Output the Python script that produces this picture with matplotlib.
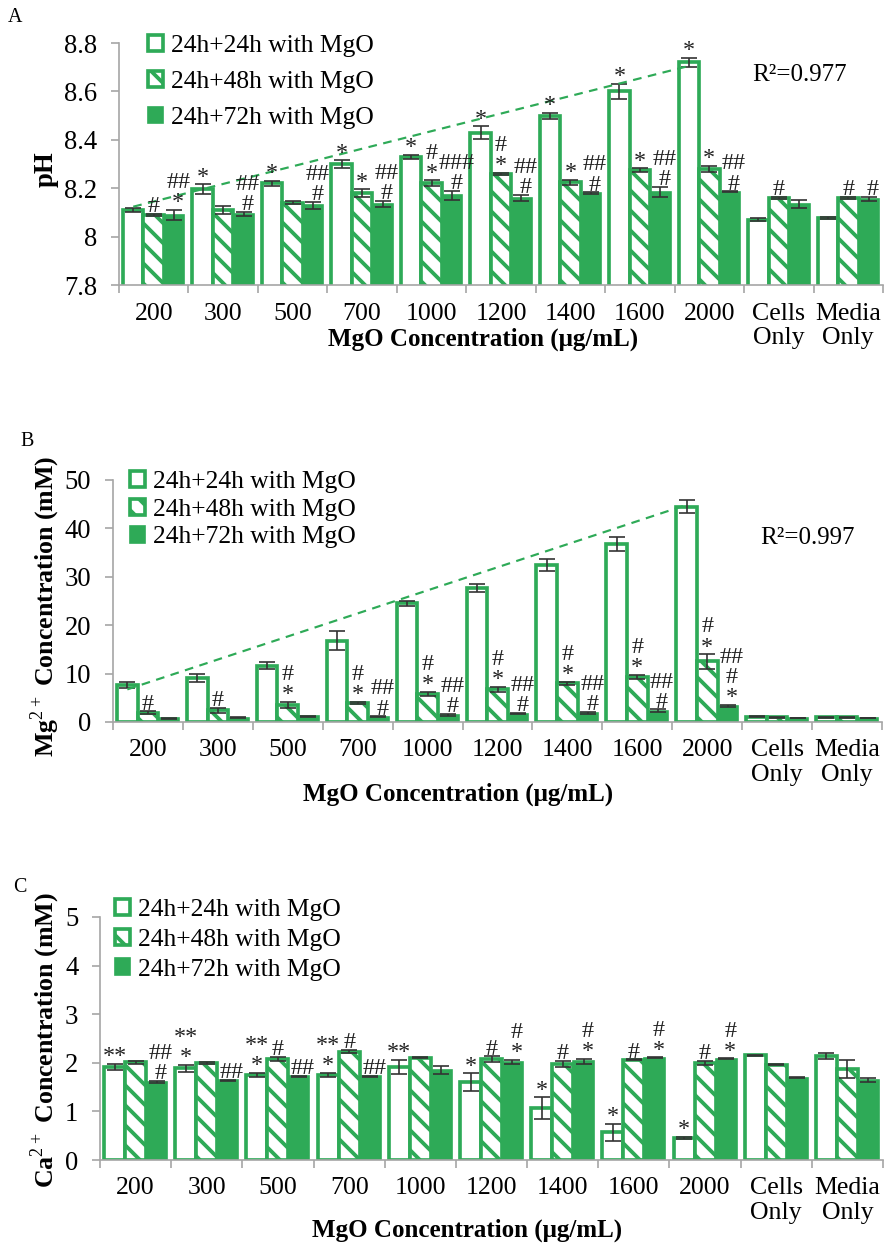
import numpy as np
import matplotlib
matplotlib.use('Agg')
import matplotlib.pyplot as plt
from matplotlib.patches import Patch
from matplotlib.ticker import FuncFormatter, FixedLocator

plt.rcParams['font.family'] = 'Liberation Serif'
plt.rcParams['mathtext.fontset'] = 'custom'
plt.rcParams['mathtext.rm'] = 'Liberation Serif'
plt.rcParams['hatch.linewidth'] = 2.3

GREEN = '#2eaa57'
plt.rcParams['hatch.color'] = GREEN

groups = ['200', '300', '500', '700', '1000', '1200', '1400', '1600', '2000', 'Cells\nOnly', 'Media\nOnly']
conc = [200, 300, 500, 700, 1000, 1200, 1400, 1600, 2000]
series_names = ['24h+24h with MgO', '24h+48h with MgO', '24h+72h with MgO']

# pH
ph_24 = [8.11, 8.196, 8.22, 8.30, 8.33, 8.43, 8.50, 8.60, 8.72, 8.07, 8.075]
ph_48 = [8.09, 8.11, 8.14, 8.18, 8.22, 8.26, 8.225, 8.275, 8.28, 8.16, 8.16]
ph_72 = [8.09, 8.095, 8.13, 8.135, 8.17, 8.16, 8.18, 8.185, 8.185, 8.135, 8.155]
ph_24_err = [0.01, 0.02, 0.01, 0.015, 0.008, 0.025, 0.012, 0.03, 0.02, 0.007, 0.004]
ph_48_err = [0.005, 0.015, 0.007, 0.015, 0.012, 0.004, 0.01, 0.007, 0.012, 0.004, 0.005]
ph_72_err = [0.02, 0.008, 0.015, 0.012, 0.02, 0.012, 0.003, 0.02, 0.002, 0.017, 0.008]
ph_24_sig = ['', '*', '*', '*', '*', '*', '*', '*', '*', '', '']
ph_48_sig = ['#', '', '', '*', '#\n*', '#\n*', '*', '*', '*', '#', '#']
ph_72_sig = ['##\n*', '##\n#', '##\n#', '##\n#', '###\n#', '##\n#', '##\n#', '##\n#', '##\n#', '', '#']

# Mg2+ (mM)
mg_24 = [7.6, 9.1, 11.6, 16.8, 24.5, 27.7, 32.4, 36.8, 44.5, 1.1, 1.0]
mg_48 = [1.9, 2.4, 3.5, 3.9, 5.8, 6.8, 8.0, 9.3, 12.5, 1.0, 1.0]
mg_72 = [0.8, 0.9, 1.2, 1.1, 1.5, 1.7, 1.9, 2.3, 3.3, 0.8, 0.8]
mg_24_err = [0.6, 0.8, 0.7, 2.0, 0.5, 0.8, 1.2, 1.5, 1.4, 0.1, 0.1]
mg_48_err = [0.3, 0.5, 0.6, 0.2, 0.4, 0.5, 0.3, 0.4, 1.5, 0.1, 0.1]
mg_72_err = [0.1, 0.1, 0.1, 0.1, 0.2, 0.15, 0.15, 0.3, 0.3, 0.05, 0.05]
mg_24_sig = [''] * 11
mg_48_sig = ['#', '#', '#\n*', '#\n*', '#\n*', '#\n*', '#\n*', '#\n*', '#\n*', '', '']
mg_72_sig = ['', '', '', '##\n#', '##\n#', '##\n#', '##\n#', '##\n#', '##\n#\n*', '', '']

# Ca2+ (mM)
ca_24 = [1.92, 1.89, 1.75, 1.75, 1.91, 1.60, 1.07, 0.57, 0.45, 2.16, 2.14]
ca_48 = [2.01, 1.99, 2.08, 2.23, 2.10, 2.07, 1.98, 2.06, 2.00, 1.96, 1.87]
ca_72 = [1.61, 1.64, 1.72, 1.72, 1.85, 2.02, 2.03, 2.10, 2.08, 1.69, 1.65]
ca_24_err = [0.06, 0.07, 0.04, 0.04, 0.15, 0.18, 0.22, 0.17, 0.02, 0.01, 0.06]
ca_48_err = [0.03, 0.02, 0.04, 0.03, 0.01, 0.06, 0.06, 0.01, 0.04, 0.01, 0.18]
ca_72_err = [0.02, 0.01, 0.01, 0.01, 0.08, 0.04, 0.05, 0.01, 0.01, 0.01, 0.04]
ca_24_sig = ['**', '**\n*', '**\n*', '**\n*', '**', '*', '*', '*', '*', '', '']
ca_48_sig = ['', '', '#', '#', '', '#', '#', '#', '#', '', '']
ca_72_sig = ['##\n#', '##', '##', '##', '', '#\n*', '#\n*', '#\n*', '#\n*', '', '']

W, H = 885, 1245
fig = plt.figure(figsize=(W / 120, H / 120), dpi=120)

bar_w = 0.295
x = np.arange(len(groups))
styles = [dict(color='white', edgecolor=GREEN, linewidth=2.2),
          dict(color='white', edgecolor=GREEN, linewidth=2.2, hatch='\\\\'),
          dict(color=GREEN, edgecolor=GREEN, linewidth=1.0)]
sig_dx = [0, 0, 2.5]


def px_box(x0, x1, ytop, ybot):
    return [x0 / W, 1 - ybot / H, (x1 - x0) / W, (ybot - ytop) / H]


def draw_panel(ax, vals, errs, sigs, ylim, yticks, trend=False):
    centers = []
    for k in range(3):
        cx = x + 0.0575 + bar_w / 2 + k * bar_w
        centers.append(cx)
        ax.bar(cx, vals[k], bar_w, zorder=2, **styles[k])
        ax.errorbar(cx, vals[k], yerr=errs[k], fmt='none', ecolor='#333333',
                    elinewidth=1.0, capsize=5, capthick=1.0, zorder=3)
        for xi, v, e, s in zip(cx, vals[k], errs[k], sigs[k]):
            if s:
                ax.annotate(s, xy=(xi, v + e), xytext=(sig_dx[k], -2), textcoords='offset points',
                            ha='center', va='bottom', fontsize=14.5, linespacing=0.95,
                            color='#222222', zorder=5)
    if trend:
        # linear fit of the first series against MgO concentration
        n = len(conc)
        coef = np.polyfit(conc, vals[0][:n], 1)
        ends = centers[0][[0, n - 1]]
        ax.plot(ends, np.polyval(coef, [conc[0], conc[-1]]), linestyle=(0, (4, 3)),
                color=GREEN, lw=1.3, zorder=4)
    ax.set_xlim(0, len(groups))
    ax.set_ylim(*ylim)
    ax.set_yticks(yticks)
    ax.yaxis.set_major_formatter(FuncFormatter(lambda v, p: '%g' % round(v, 2)))
    ax.set_xticks(x + 0.5)
    ax.set_xticklabels(groups)
    for lbl in ax.get_xticklabels():
        lbl.set_linespacing(1.12)
    ax.xaxis.set_minor_locator(FixedLocator(np.arange(len(groups) + 1)))
    ax.tick_params(axis='x', which='major', length=0, pad=10.5, labelsize=15.5)
    ax.tick_params(axis='x', which='minor', length=5, width=1, color='#a6a6a6')
    ax.tick_params(axis='y', length=5, width=1, color='#a6a6a6', pad=8, labelsize=16)
    for side in ['top', 'right']:
        ax.spines[side].set_visible(False)
    for side in ['left', 'bottom']:
        ax.spines[side].set_color('#a6a6a6')
        ax.spines[side].set_linewidth(1.0)
        ax.spines[side].set_zorder(6)


def add_legend(ax, left, top, spacing):
    handles = [Patch(facecolor=s['color'], edgecolor=s['edgecolor'],
                     linewidth=s['linewidth'], hatch=s.get('hatch')) for s in styles]
    ax.legend(handles, series_names, loc='upper left', bbox_to_anchor=(left / W, 1 - top / H),
              bbox_transform=fig.transFigure, frameon=False, fontsize=15.3,
              handlelength=0.6, handleheight=0.6, handletextpad=0.3,
              labelspacing=spacing, borderpad=0, borderaxespad=0)


xlabel = 'MgO Concentration (μg/mL)'

# A: pH
axA = fig.add_axes(px_box(119, 883, 43, 285))
draw_panel(axA, [ph_24, ph_48, ph_72], [ph_24_err, ph_48_err, ph_72_err],
           [ph_24_sig, ph_48_sig, ph_72_sig], (7.8, 8.8), np.arange(7.8, 8.81, 0.2), trend=True)
add_legend(axA, 148, 35, 0.55)
fig.text(800 / W, 1 - 75 / H, 'R²=0.977', ha='center', va='center', fontsize=15)
fig.text(15 / W, 1 - 18 / H, 'A', ha='center', va='center', fontsize=12)
fig.text(46 / W, 1 - 169 / H, 'pH', rotation=90, ha='center', va='center', fontsize=16, fontweight='bold')
fig.text(483 / W, 1 - 339 / H, xlabel, ha='center', va='center', fontsize=15, fontweight='bold')

# B: Mg2+
axB = fig.add_axes(px_box(113, 882, 480, 722))
draw_panel(axB, [mg_24, mg_48, mg_72], [mg_24_err, mg_48_err, mg_72_err],
           [mg_24_sig, mg_48_sig, mg_72_sig], (0, 50), np.arange(0, 51, 10), trend=True)
add_legend(axB, 130, 471, 0.22)
fig.text(807 / W, 1 - 538 / H, 'R²=0.997', ha='center', va='center', fontsize=15)
fig.text(27 / W, 1 - 441 / H, 'B', ha='center', va='center', fontsize=12)
fig.text(45 / W, 1 - 606 / H, r'Mg$^{2+}$ Concentration (mM)', rotation=90, ha='center',
         va='center', fontsize=15.5, fontweight='bold')
fig.text(458 / W, 1 - 794 / H, xlabel, ha='center', va='center', fontsize=15, fontweight='bold')

# C: Ca2+
axC = fig.add_axes(px_box(100, 883, 917, 1160))
draw_panel(axC, [ca_24, ca_48, ca_72], [ca_24_err, ca_48_err, ca_72_err],
           [ca_24_sig, ca_48_sig, ca_72_sig], (0, 5), np.arange(0, 5.1, 1))
add_legend(axC, 115, 899, 0.3)
fig.text(20 / W, 1 - 887 / H, 'C', ha='center', va='center', fontsize=12)
fig.text(45 / W, 1 - 1040 / H, r'Ca$^{2+}$ Concentration (mM)', rotation=90, ha='center',
         va='center', fontsize=15.5, fontweight='bold')
fig.text(467 / W, 1 - 1230 / H, xlabel, ha='center', va='center', fontsize=15, fontweight='bold')

fig.savefig('out.png', dpi=120)
